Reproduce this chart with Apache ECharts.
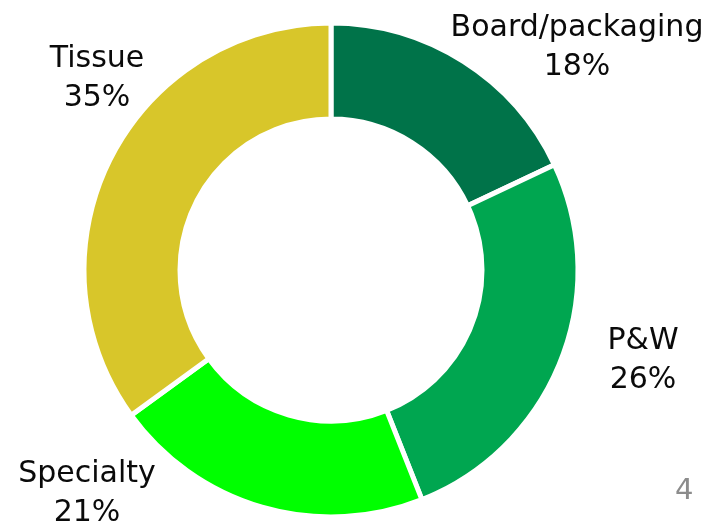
<!DOCTYPE html>
<html>
<head>
<meta charset="utf-8">
<script src="https://cdn.jsdelivr.net/npm/echarts@6/dist/echarts.min.js"></script>
<style>html,body{margin:0;padding:0;background:#fff;}#c{width:717px;height:528px;}</style>
</head>
<body>
<div id="c"></div>
<script>
var categories = ['Board/packaging', 'P&W', 'Specialty', 'Tissue'];
var shares = [18, 26, 21, 35];
var sliceColors = ['#007349', '#00A650', '#00FF00', '#D8C62A'];
var pageNumber = '4';

var chart = echarts.init(document.getElementById('c'));
var labelSpots = [[577, 48], [643, 361], [87, 494], [97, 79]];
chart.setOption({
  animation: false,
  series: [{
    type: 'pie',
    center: [331, 270],
    radius: [151, 247],
    startAngle: 90,
    clockwise: true,
    avoidLabelOverlap: false,
    data: categories.map(function (c, i) {
      return { name: c, value: shares[i], itemStyle: { color: sliceColors[i] } };
    }),
    itemStyle: { borderColor: '#ffffff', borderWidth: 5 },
    label: {
      show: true,
      position: 'outside',
      overflow: 'none',
      formatter: function (p) { return p.name + '\n' + p.value + '%'; },
      fontFamily: 'DejaVu Sans',
      fontSize: 30,
      lineHeight: 39,
      color: '#0a0a0a',
      align: 'center',
      verticalAlign: 'middle'
    },
    labelLine: { show: false },
    labelLayout: function (params) {
      var s = labelSpots[params.dataIndex];
      return { x: s[0], y: s[1], align: 'center', verticalAlign: 'middle', width: 400 };
    },
    emphasis: { disabled: true }
  }],
  graphic: [{
    type: 'text',
    left: 675,
    top: 477,
    style: { text: pageNumber, fontFamily: 'DejaVu Sans', fontSize: 29, fill: '#8C8C8C' }
  }]
});
</script>
</body>
</html>
